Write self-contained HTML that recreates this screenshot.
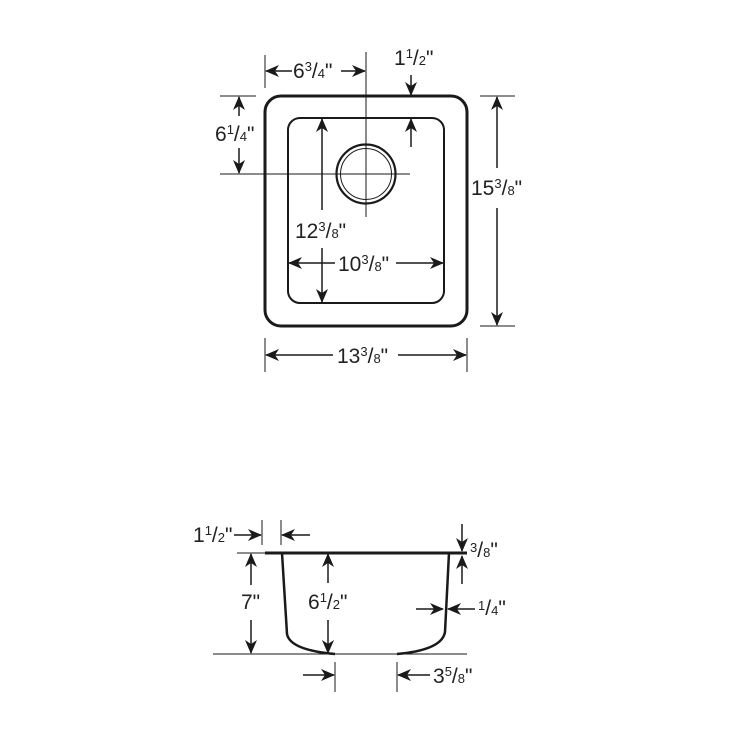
<!DOCTYPE html>
<html><head><meta charset="utf-8"><style>
html,body{margin:0;padding:0;background:#fff;}
svg{display:block;}
text{font-family:"Liberation Sans",Arial,sans-serif;fill:#222;}
.m{font-size:21px;}
.s{font-size:13px;}
</style></head><body>
<svg width="736" height="736" viewBox="0 0 736 736" xmlns="http://www.w3.org/2000/svg">
<defs>
<marker id="a" markerWidth="14" markerHeight="12" refX="13" refY="6" orient="auto" markerUnits="userSpaceOnUse">
<path d="M0,0 L14,6 L0,12 L4,6 Z" fill="#1a1a1a"/>
</marker>
</defs>
<g stroke="#1a1a1a" fill="none">
<rect x="265" y="96" width="202" height="230" rx="16" stroke-width="3"/>
<rect x="288" y="118" width="156" height="185" rx="12" stroke-width="2"/>
<circle cx="366" cy="174" r="29.5" stroke-width="2.2"/>
<circle cx="366" cy="174" r="25.5" stroke-width="1"/>
<line x1="366" y1="52" x2="366" y2="217" stroke-width="1"/>
<line x1="220" y1="174" x2="410" y2="174" stroke-width="1"/>
<line x1="265" y1="55" x2="265" y2="88" stroke-width="1"/>
<line x1="292" y1="71" x2="266" y2="71" stroke-width="1.5" marker-end="url(#a)"/>
<line x1="341" y1="71" x2="365" y2="71" stroke-width="1.5" marker-end="url(#a)"/>
<line x1="411" y1="75" x2="411" y2="95" stroke-width="1.5" marker-end="url(#a)"/>
<line x1="411" y1="147" x2="411" y2="119" stroke-width="1.5" marker-end="url(#a)"/>
<line x1="220" y1="96" x2="256" y2="96" stroke-width="1"/>
<line x1="239" y1="116" x2="239" y2="97" stroke-width="1.5" marker-end="url(#a)"/>
<line x1="239" y1="148" x2="239" y2="173" stroke-width="1.5" marker-end="url(#a)"/>
<line x1="322" y1="210" x2="322" y2="119" stroke-width="1.5" marker-end="url(#a)"/>
<line x1="322" y1="248" x2="322" y2="302" stroke-width="1.5" marker-end="url(#a)"/>
<line x1="335" y1="263" x2="289" y2="263" stroke-width="1.5" marker-end="url(#a)"/>
<line x1="396" y1="263" x2="443" y2="263" stroke-width="1.5" marker-end="url(#a)"/>
<line x1="480" y1="96" x2="515" y2="96" stroke-width="1"/>
<line x1="480" y1="326" x2="515" y2="326" stroke-width="1"/>
<line x1="497" y1="168" x2="497" y2="97" stroke-width="1.5" marker-end="url(#a)"/>
<line x1="497" y1="208" x2="497" y2="325" stroke-width="1.5" marker-end="url(#a)"/>
<line x1="265" y1="338" x2="265" y2="372" stroke-width="1"/>
<line x1="467" y1="338" x2="467" y2="372" stroke-width="1"/>
<line x1="333" y1="355" x2="266" y2="355" stroke-width="1.5" marker-end="url(#a)"/>
<line x1="398" y1="355" x2="466" y2="355" stroke-width="1.5" marker-end="url(#a)"/>

<line x1="265" y1="553" x2="467" y2="553" stroke-width="3"/>
<line x1="237" y1="553" x2="265" y2="553" stroke-width="1"/>
<line x1="213" y1="654" x2="467" y2="654" stroke-width="1"/>
<path d="M282,553 L287,634 Q290,650 335,654" stroke-width="2.5"/>
<path d="M449,553 L445,632 Q442,650 397,654" stroke-width="2.5"/>
<line x1="262" y1="520" x2="262" y2="545" stroke-width="1"/>
<line x1="281" y1="520" x2="281" y2="545" stroke-width="1"/>
<line x1="234" y1="535" x2="261" y2="535" stroke-width="1.5" marker-end="url(#a)"/>
<line x1="310" y1="535" x2="282" y2="535" stroke-width="1.5" marker-end="url(#a)"/>
<line x1="251" y1="585" x2="251" y2="554" stroke-width="1.5" marker-end="url(#a)"/>
<line x1="251" y1="620" x2="251" y2="653" stroke-width="1.5" marker-end="url(#a)"/>
<line x1="328" y1="583" x2="328" y2="554" stroke-width="1.5" marker-end="url(#a)"/>
<line x1="328" y1="620" x2="328" y2="653" stroke-width="1.5" marker-end="url(#a)"/>
<line x1="462" y1="524" x2="462" y2="551" stroke-width="1.5" marker-end="url(#a)"/>
<line x1="462" y1="584" x2="462" y2="556" stroke-width="1.5" marker-end="url(#a)"/>
<line x1="416" y1="609" x2="443" y2="609" stroke-width="1.5" marker-end="url(#a)"/>
<line x1="475" y1="609" x2="448" y2="609" stroke-width="1.5" marker-end="url(#a)"/>
<line x1="335" y1="662" x2="335" y2="692" stroke-width="1"/>
<line x1="397" y1="662" x2="397" y2="692" stroke-width="1"/>
<line x1="303" y1="675" x2="334" y2="675" stroke-width="1.5" marker-end="url(#a)"/>
<line x1="430" y1="675" x2="398" y2="675" stroke-width="1.5" marker-end="url(#a)"/>
</g>

<g>
<text x="293" y="78"><tspan class="m">6</tspan><tspan class="s" dy="-7">3</tspan><tspan class="m" dy="7">/</tspan><tspan class="s">4</tspan><tspan class="m">"</tspan></text>
<text x="394" y="65"><tspan class="m">1</tspan><tspan class="s" dy="-7">1</tspan><tspan class="m" dy="7">/</tspan><tspan class="s">2</tspan><tspan class="m">"</tspan></text>
<text x="215" y="141"><tspan class="m">6</tspan><tspan class="s" dy="-7">1</tspan><tspan class="m" dy="7">/</tspan><tspan class="s">4</tspan><tspan class="m">"</tspan></text>
<text x="295" y="238"><tspan class="m">12</tspan><tspan class="s" dy="-7">3</tspan><tspan class="m" dy="7">/</tspan><tspan class="s">8</tspan><tspan class="m">"</tspan></text>
<text x="338" y="271"><tspan class="m">10</tspan><tspan class="s" dy="-7">3</tspan><tspan class="m" dy="7">/</tspan><tspan class="s">8</tspan><tspan class="m">"</tspan></text>
<text x="471" y="195"><tspan class="m">15</tspan><tspan class="s" dy="-7">3</tspan><tspan class="m" dy="7">/</tspan><tspan class="s">8</tspan><tspan class="m">"</tspan></text>
<text x="337" y="363"><tspan class="m">13</tspan><tspan class="s" dy="-7">3</tspan><tspan class="m" dy="7">/</tspan><tspan class="s">8</tspan><tspan class="m">"</tspan></text>

<text x="193" y="542"><tspan class="m">1</tspan><tspan class="s" dy="-7">1</tspan><tspan class="m" dy="7">/</tspan><tspan class="s">2</tspan><tspan class="m">"</tspan></text>
<text x="241" y="609"><tspan class="m">7"</tspan></text>
<text x="308" y="609"><tspan class="m">6</tspan><tspan class="s" dy="-7">1</tspan><tspan class="m" dy="7">/</tspan><tspan class="s">2</tspan><tspan class="m">"</tspan></text>
<text x="470" y="557"><tspan class="s" dy="-5">3</tspan><tspan class="m" dy="5">/</tspan><tspan class="s">8</tspan><tspan class="m">"</tspan></text>
<text x="478" y="615"><tspan class="s" dy="-5">1</tspan><tspan class="m" dy="5">/</tspan><tspan class="s">4</tspan><tspan class="m">"</tspan></text>
<text x="433" y="683"><tspan class="m">3</tspan><tspan class="s" dy="-7">5</tspan><tspan class="m" dy="7">/</tspan><tspan class="s">8</tspan><tspan class="m">"</tspan></text>
</g>
</svg>
</body></html>
